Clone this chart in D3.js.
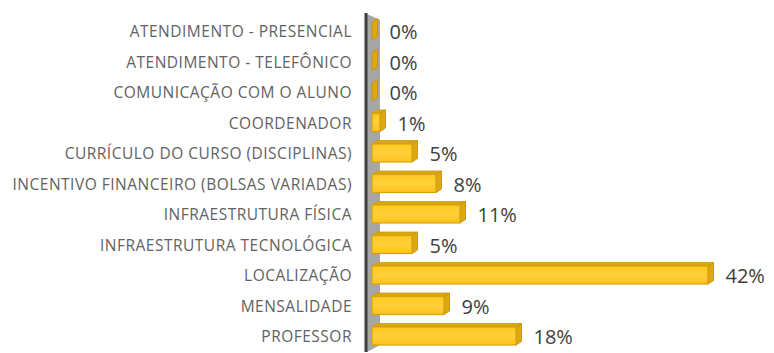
<!DOCTYPE html>
<html>
<head>
<meta charset="utf-8">
<script src="https://cdn.jsdelivr.net/npm/d3@7/dist/d3.min.js"></script>
<style>
  html, body { margin: 0; padding: 0; background: #fff; }
  svg { display: block; }
</style>
</head>
<body>
<svg id="chart" width="774" height="353"></svg>
<script>
// Motivos de escolha da instituição (percentual de respostas)
const categories = [
  "ATENDIMENTO - PRESENCIAL",
  "ATENDIMENTO - TELEFÔNICO",
  "COMUNICAÇÃO COM O ALUNO",
  "COORDENADOR",
  "CURRÍCULO DO CURSO (DISCIPLINAS)",
  "INCENTIVO FINANCEIRO (BOLSAS VARIADAS)",
  "INFRAESTRUTURA FÍSICA",
  "INFRAESTRUTURA TECNOLÓGICA",
  "LOCALIZAÇÃO",
  "MENSALIDADE",
  "PROFESSOR"
];
const values = [0, 0, 0, 1, 5, 8, 11, 5, 42, 9, 18];
const valueLabels = values.map(v => v + "%");

const svg = d3.select("#chart");

const x = d3.scaleLinear().domain([0, 42]).range([372, 708]);
const y = d3.scaleBand().domain(categories).range([16.75, 352.25]).padding(0);

// 3D depth offsets
const dx = 5.5, dy = 3.5, frontH = 18;

const defs = svg.append("defs");
const grad = defs.append("linearGradient")
  .attr("id", "frontGrad").attr("x1", 0).attr("y1", 0).attr("x2", 0).attr("y2", 1);
grad.append("stop").attr("offset", "0%").attr("stop-color", "#FFC91F");
grad.append("stop").attr("offset", "50%").attr("stop-color", "#FFD03A");
grad.append("stop").attr("offset", "100%").attr("stop-color", "#FFC21A");

// side wall behind the bars
const wallL = 367, wallR = 380;
svg.append("path")
  .attr("d", `M${wallL},14 L${wallR},20 L${wallR},345 L${wallL},352 Z`)
  .attr("fill", "#A6A6A6");
svg.append("line")
  .attr("x1", 366).attr("x2", 366).attr("y1", 13).attr("y2", 352)
  .attr("stroke", "#3F3F3F").attr("stroke-width", 3);

const rows = svg.append("g").selectAll("g")
  .data(categories.map((c, i) => ({ c, v: values[i], label: valueLabels[i] })))
  .join("g");

rows.each(function(d) {
  const g = d3.select(this);
  const cy = y(d.c) + y.bandwidth() / 2;
  const y0 = cy - 10;
  const x0 = x(0), x1 = x(d.v);

  // top face
  if (x1 > x0) {
    g.append("path")
      .attr("d", `M${x0},${y0} L${x0 + dx},${y0 - dy} L${x1 + dx},${y0 - dy} L${x1},${y0} Z`)
      .attr("fill", "#D9A70F").attr("stroke", "#C99A0C").attr("stroke-width", 0.8);
  }
  // right side face
  g.append("path")
    .attr("d", `M${x1},${y0} L${x1 + dx},${y0 - dy} L${x1 + dx},${y0 + frontH - dy} L${x1},${y0 + frontH} Z`)
    .attr("fill", "#DDA912").attr("stroke", "#C2920A").attr("stroke-width", 0.9);
  // front face
  if (x1 > x0) {
    g.append("rect")
      .attr("x", x0).attr("y", y0)
      .attr("width", x1 - x0).attr("height", frontH)
      .attr("fill", "url(#frontGrad)")
      .attr("stroke", "#D7A30C").attr("stroke-width", 1.2);
  }

  // value label
  g.append("text")
    .attr("x", x1 + dx + 12).attr("y", cy)
    .attr("dy", "0.36em")
    .attr("font-family", "'Open Sans', sans-serif")
    .attr("font-size", 20)
    .attr("fill", "#404040")
    .text(d.label);

  // category label
  g.append("text")
    .attr("x", 352).attr("y", cy)
    .attr("dy", "0.35em")
    .attr("text-anchor", "end")
    .attr("font-family", "'Open Sans', sans-serif")
    .attr("font-size", 15.5)
    .attr("letter-spacing", 0.5)
    .attr("fill", "#626262")
    .text(d.c);
});
</script>
</body>
</html>
